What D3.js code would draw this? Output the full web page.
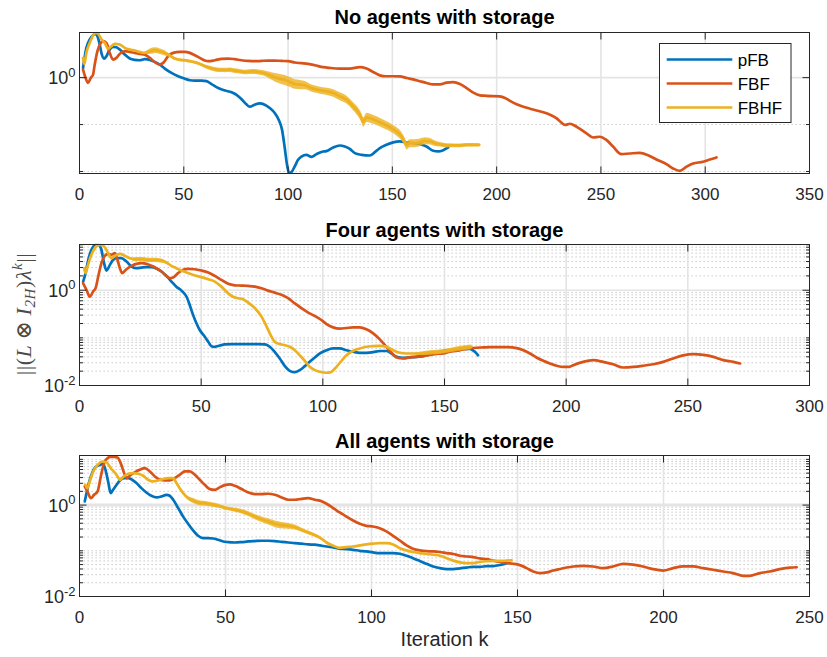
<!DOCTYPE html>
<html>
<head>
<meta charset="utf-8">
<script src="https://cdn.jsdelivr.net/npm/d3@7"></script>
<style>
  body { margin: 0; background: #fff; }
  svg { display: block; }
</style>
</head>
<body>
<svg id="chart" width="827" height="657"></svg>
<script>
// ---------------------------------------------------------------
// Residual norm per iteration, three storage scenarios
// Each series: [iteration k, ||(L ⊗ I_2H) λ^k||]
// ---------------------------------------------------------------
const seriesNames = ["pFB", "FBF", "FBHF"];
const panelTitles = ["No agents with storage", "Four agents with storage", "All agents with storage"];
const xTicksNone = [0, 50, 100, 150, 200, 250, 300, 350];
const xTicksFour = [0, 50, 100, 150, 200, 250, 300];
const xTicksAll = [0, 50, 100, 150, 200, 250];

// --- No agents with storage ---
const noneFB = [[1.7,1.61],[3.3,4.31],[4.9,6.5],[6.5,8.0],[7.7,8.6],[8.6,7.65],[9.7,5.08],[10.5,3.37],[11.8,2.55],[12.9,2.86],[14.5,3.97],[16.1,4.53],[17.7,4.45],[19.3,3.97],[21.7,3.1],[24.1,2.55],[26.5,2.39],[28.9,2.35],[31.3,2.47],[33.7,2.39],[36.1,2.17],[38.5,1.9],[40.9,1.56],[44.1,1.26],[47.3,1.07],[50.5,0.95],[52.9,0.88],[55.3,0.86],[58.5,0.86],[60.9,0.84],[63.3,0.73],[66.5,0.60],[69.7,0.53],[72.9,0.49],[75.3,0.43],[77.6,0.35],[80.0,0.27],[81.6,0.24],[84.0,0.265],[86.4,0.283],[88.8,0.265],[91.2,0.225],[93.6,0.176],[95.5,0.127],[97.1,0.078],[98.4,0.032],[99.5,0.0139],[100.5,0.0093],[101.6,0.0097],[103.2,0.0128],[104.8,0.0177],[106.4,0.0208],[108.8,0.0226],[111.2,0.0205],[113.6,0.0234],[116.8,0.0267],[118.4,0.0272],[121.6,0.0325],[124.8,0.0358],[127.2,0.0341],[129.6,0.0304],[132.0,0.0246],[135.2,0.0226],[139.2,0.0219],[141.6,0.0258],[144.0,0.0315],[147.2,0.0371],[150.4,0.0416],[153.6,0.0437],[156.8,0.0416],[160.0,0.0403],[163.2,0.0383],[166.4,0.0341],[169.6,0.0276],[172.0,0.0267],[174.4,0.0285],[176.8,0.0325]];
const noneFBF = [[1.7,1.48],[2.9,0.99],[4.1,0.77],[5.4,0.99],[6.5,1.16],[7.3,1.9],[8.6,3.66],[10.2,5.5],[11.3,5.98],[12.9,5.5],[14.5,3.37],[16.1,2.43],[17.7,2.64],[19.3,3.21],[21.7,3.66],[24.1,3.54],[26.5,3.37],[28.9,3.21],[31.3,3.1],[33.7,2.64],[36.1,2.13],[38.5,1.9],[40.1,2.06],[42.5,2.86],[44.9,3.37],[48.1,3.54],[50.5,3.54],[52.9,3.37],[55.3,3.01],[57.7,2.64],[60.1,2.31],[61.7,2.24],[64.9,2.35],[68.1,2.51],[71.3,2.55],[74.4,2.47],[77.6,2.35],[80.8,2.27],[84.0,2.24],[87.2,2.27],[90.4,2.31],[93.6,2.31],[96.8,2.27],[100.0,2.24],[103.2,2.10],[106.4,2.03],[109.6,1.96],[112.8,1.84],[116.8,1.67],[120.0,1.61],[124.8,1.56],[129.6,1.56],[134.4,1.67],[137.6,1.56],[140.8,1.32],[144.0,1.12],[147.2,1.07],[150.4,1.07],[153.6,1.06],[157.0,0.98],[160.0,0.92],[163.2,0.84],[166.4,0.77],[169.6,0.72],[172.8,0.72],[176.0,0.78],[179.2,0.80],[182.4,0.73],[185.6,0.60],[188.8,0.48],[192.0,0.42],[195.1,0.41],[201.5,0.40],[204.0,0.37],[206.4,0.32],[209.6,0.27],[212.8,0.24],[216.0,0.218],[219.2,0.200],[222.4,0.183],[225.6,0.162],[228.8,0.135],[231.6,0.105],[232.8,0.098],[235.1,0.104],[238.3,0.090],[243.1,0.065],[246.2,0.053],[249.4,0.055],[252.6,0.047],[255.8,0.034],[259.8,0.0234],[263.8,0.0242],[268.6,0.025],[272.6,0.0223],[276.6,0.018],[281.4,0.0143],[284.6,0.0116],[287.8,0.0103],[291.0,0.0126],[294.2,0.0148],[299.0,0.0161],[302.2,0.018],[305.4,0.0199]];
const noneFBHF = [[1.7,2.6],[2.3,1.95],[3.3,3.4],[4.9,5.5],[6.3,7.6],[7.5,8.9],[8.6,8.9],[9.2,8.3],[10.5,6.6],[12.1,5.5],[13.7,4.17],[15.3,4.68],[16.9,5.25],[19.3,5.08],[21.7,4.31],[24.1,3.97],[26.5,3.78],[28.9,3.54],[31.3,3.37],[33.7,3.66],[36.1,3.85],[38.5,3.66],[40.9,3.37],[43.3,2.96],[45.7,2.55],[48.1,2.39],[50.5,2.35],[52.9,2.24],[55.3,2.13],[57.7,1.96],[60.1,1.75],[62.5,1.61],[64.9,1.51],[67.3,1.46],[69.7,1.46],[72.0,1.48],[74.4,1.41],[76.8,1.37],[79.2,1.32],[81.6,1.35],[84.0,1.35],[86.4,1.30],[88.8,1.24],[91.2,1.12],[93.6,1.02],[96.0,0.95],[98.4,0.89],[100.8,0.81],[103.2,0.73],[105.6,0.71],[108.0,0.69],[110.4,0.62],[112.8,0.57],[115.2,0.54],[118.4,0.51],[121.6,0.47],[124.8,0.40],[128.0,0.34],[131.2,0.245],[133.6,0.185],[135.2,0.138],[136.0,0.113],[137.6,0.142],[140.0,0.133],[142.4,0.121],[144.8,0.108],[147.2,0.096],[149.6,0.084],[152.0,0.071],[154.4,0.056],[156.0,0.042],[156.8,0.036],[158.4,0.040],[160.8,0.040],[163.2,0.042],[165.6,0.045],[168.0,0.044],[170.4,0.040],[172.8,0.038],[176.0,0.036],[179.2,0.036],[182.4,0.036],[185.6,0.037],[191.7,0.037]];
// iteration-to-iteration oscillation of FBHF: half-width of its envelope, in decades
const noneFBHFSpread = [[30,0],[33,0.06],[40,0.06],[44,0.03],[58,0.03],[62,0.045],[80,0.05],[88,0.055],[93,0.085],[97,0.107],[106,0.1],[110,0.075],[117,0.075],[124,0.085],[130,0.085],[137,0.1],[145,0.09],[152,0.09],[160,0.085],[168,0.07],[173,0.045],[192,0.035]];

// --- Four agents with storage ---
const fourFB = [[1.5,1.52],[2.5,2.28],[3.6,4.34],[4.9,7.05],[6.6,8.9],[7.7,8.9],[8.8,7.65],[10.1,3.7],[11.1,2.59],[12.5,3.41],[13.8,4.34],[15.6,4.71],[17.2,4.71],[19.3,4.0],[21.4,3.14],[23.4,2.9],[25.5,2.99],[27.5,3.05],[29.6,3.05],[31.6,2.85],[33.7,2.47],[35.7,2.0],[37.8,1.52],[39.8,1.19],[41.9,0.98],[44.0,0.73],[45.3,0.49],[46.7,0.30],[48.1,0.20],[49.4,0.146],[51.5,0.106],[52.9,0.083],[54.2,0.067],[55.6,0.065],[57.7,0.069],[59.7,0.073],[62.5,0.074],[65.2,0.074],[67.9,0.074],[70.7,0.074],[73.4,0.074],[76.2,0.073],[78.2,0.065],[80.2,0.051],[82.3,0.037],[84.4,0.0255],[86.4,0.0203],[88.5,0.019],[90.5,0.021],[92.6,0.0255],[94.6,0.0315],[96.7,0.0388],[98.8,0.047],[101.5,0.055],[104.2,0.060],[107.0,0.060],[109.7,0.055],[112.5,0.051],[115.2,0.0486],[117.9,0.0486],[120.7,0.050],[123.4,0.053],[126.1,0.053],[128.2,0.047],[130.3,0.040],[133.0,0.038],[135.7,0.039],[138.5,0.040],[141.2,0.042],[144.0,0.045],[146.7,0.0486],[149.5,0.053],[152.2,0.055],[155.0,0.057],[157.7,0.059],[160.4,0.059],[162.5,0.051],[163.8,0.043]];
const fourFBF = [[1.5,1.40],[2.9,1.01],[4.2,0.73],[5.6,0.94],[6.6,1.10],[7.7,1.94],[9.0,3.7],[10.4,5.27],[11.8,5.81],[13.1,5.53],[14.5,6.0],[15.6,4.34],[16.6,2.9],[17.5,2.28],[19.3,2.76],[21.4,3.25],[23.4,3.58],[25.5,3.70],[27.5,3.58],[29.6,3.25],[31.6,2.90],[33.7,2.47],[35.7,2.0],[37.1,1.79],[38.5,1.85],[40.5,2.28],[42.6,2.68],[44.6,2.81],[47.4,2.76],[50.1,2.59],[52.9,2.35],[55.6,2.0],[58.3,1.65],[61.1,1.36],[63.8,1.27],[66.6,1.25],[69.3,1.23],[72.1,1.19],[74.8,1.10],[77.5,0.98],[80.2,0.89],[83.0,0.80],[85.7,0.68],[88.5,0.53],[91.2,0.42],[94.0,0.34],[96.7,0.288],[99.4,0.237],[101.5,0.195],[104.2,0.166],[107.0,0.156],[109.7,0.161],[112.5,0.166],[115.2,0.166],[117.9,0.151],[120.7,0.124],[123.4,0.093],[126.1,0.065],[128.2,0.0486],[130.3,0.0388],[133.0,0.037],[135.7,0.0388],[138.5,0.040],[141.2,0.041],[144.0,0.044],[146.7,0.046],[149.5,0.047],[152.2,0.051],[155.0,0.0536],[157.7,0.057],[160.4,0.060],[163.2,0.062],[165.9,0.063],[168.6,0.064],[171.4,0.064],[175.5,0.064],[179.6,0.061],[182.4,0.055],[185.1,0.047],[187.8,0.0388],[190.6,0.033],[193.3,0.029],[196.1,0.026],[198.8,0.0245],[201.3,0.0247],[202.9,0.0267],[207.0,0.0314],[211.1,0.034],[215.2,0.0314],[219.3,0.028],[223.4,0.0239],[227.6,0.0245],[231.7,0.026],[235.8,0.028],[239.9,0.0314],[244.0,0.037],[248.1,0.043],[252.3,0.0456],[256.4,0.044],[260.5,0.040],[264.6,0.034],[268.7,0.0314],[271.5,0.029]];
const fourFBHF = [[1.9,2.9],[2.5,2.28],[3.3,3.14],[4.6,5.1],[6.3,7.65],[7.9,8.9],[9.0,8.9],[10.4,8.0],[11.8,6.0],[13.1,4.71],[14.5,5.27],[16.6,5.81],[18.6,5.27],[20.7,4.71],[22.7,4.49],[25.5,4.49],[28.2,4.34],[30.9,4.34],[33.7,4.2],[35.7,3.82],[37.8,3.25],[39.8,2.90],[41.9,2.59],[44.0,2.35],[46.0,2.17],[48.1,2.0],[50.1,1.88],[52.9,1.70],[55.6,1.52],[58.3,1.19],[61.1,0.86],[63.1,0.73],[65.2,0.68],[67.2,0.65],[69.3,0.55],[72.1,0.42],[74.8,0.279],[76.8,0.177],[78.9,0.106],[80.2,0.083],[82.3,0.074],[84.4,0.070],[86.4,0.065],[88.5,0.055],[90.5,0.043],[92.6,0.033],[94.6,0.0247],[96.7,0.021],[98.8,0.0194],[101.5,0.0185],[103.5,0.0193],[105.6,0.0247],[107.7,0.033],[109.7,0.043],[112.5,0.0536],[115.2,0.060],[117.9,0.065],[120.7,0.067],[123.4,0.068],[126.1,0.065],[128.9,0.055],[131.6,0.0486],[134.3,0.047],[137.1,0.047],[139.8,0.047],[142.5,0.0486],[145.3,0.050],[148.0,0.051],[150.7,0.0536],[153.5,0.057],[156.2,0.060],[159.0,0.063],[161.0,0.065]];
const fourFBHFSpread = [[20,0],[23,0.045],[34,0.045],[38,0],[136,0],[141,0.045],[161,0.05]];

// --- All agents with storage ---
const allFB = [[1.8,1.20],[2.4,1.83],[3.2,3.03],[4.3,5.0],[5.5,6.8],[7.0,7.6],[8.1,8.0],[8.9,5.92],[9.8,3.29],[10.7,1.83],[11.5,2.16],[12.7,2.78],[13.8,3.46],[15.3,3.89],[16.7,3.89],[18.0,3.58],[19.5,3.03],[21.2,2.35],[22.9,1.89],[24.6,1.60],[26.4,1.47],[28.1,1.55],[29.8,1.68],[30.9,1.60],[32.1,1.31],[33.8,0.86],[35.5,0.56],[37.2,0.39],[38.9,0.279],[40.6,0.213],[42.3,0.189],[44.0,0.189],[45.8,0.186],[47.5,0.174],[49.2,0.160],[50.9,0.155],[53.2,0.152],[55.5,0.155],[57.8,0.160],[60.0,0.163],[62.3,0.166],[64.6,0.166],[66.9,0.163],[69.2,0.157],[71.5,0.152],[73.7,0.147],[76.0,0.143],[78.3,0.138],[80.6,0.136],[82.3,0.131],[84.6,0.124],[86.9,0.118],[89.1,0.112],[91.4,0.109],[93.7,0.105],[96.0,0.100],[98.3,0.097],[100.5,0.092],[102.8,0.089],[105.1,0.089],[107.4,0.089],[109.7,0.086],[112.0,0.078],[114.2,0.069],[116.5,0.060],[118.8,0.052],[121.1,0.0454],[123.4,0.0418],[125.7,0.0397],[128.0,0.0397],[130.3,0.0413],[132.5,0.043],[134.8,0.0447],[137.1,0.0447],[139.4,0.046],[141.7,0.0463],[144.0,0.049],[146.2,0.053]];
const allFBF = [[1.8,2.56],[2.7,1.99],[3.9,1.42],[5.0,1.68],[6.2,1.99],[7.3,4.23],[8.4,8.3],[9.6,10.7],[10.7,11.3],[11.9,11.3],[13.0,11.0],[14.1,8.3],[15.3,5.0],[16.1,3.89],[17.2,4.38],[18.9,5.18],[20.6,5.92],[22.4,6.44],[24.1,5.44],[25.8,4.23],[27.5,3.58],[29.2,3.46],[30.9,3.46],[32.6,3.89],[34.3,4.6],[36.1,5.44],[37.8,5.44],[39.5,4.6],[41.2,3.58],[42.9,2.78],[44.6,2.24],[46.3,2.16],[48.1,2.47],[49.8,2.74],[51.5,2.83],[53.2,2.64],[55.5,2.24],[57.8,1.89],[60.0,1.74],[62.3,1.74],[64.6,1.77],[66.9,1.68],[69.2,1.47],[71.5,1.31],[73.7,1.31],[76.0,1.37],[78.3,1.42],[80.6,1.31],[82.3,1.25],[84.6,1.07],[86.9,0.86],[89.1,0.69],[91.4,0.56],[93.7,0.46],[96.0,0.39],[98.3,0.352],[100.5,0.34],[102.8,0.313],[105.1,0.265],[107.4,0.213],[109.7,0.168],[112.0,0.131],[114.2,0.111],[116.5,0.102],[118.8,0.098],[121.1,0.097],[123.4,0.094],[125.7,0.089],[128.0,0.085],[130.3,0.078],[132.5,0.075],[134.8,0.073],[137.1,0.068],[139.4,0.066],[141.7,0.061],[144.0,0.057],[146.2,0.054],[148.5,0.052],[150.8,0.0486],[153.1,0.0418],[155.4,0.0353],[157.7,0.0325],[160.0,0.0336],[162.2,0.037],[164.5,0.040],[166.8,0.043],[169.1,0.0454],[172.5,0.047],[175.9,0.0454],[179.3,0.0418],[182.7,0.0454],[186.2,0.052],[189.6,0.050],[193.0,0.0454],[196.4,0.0397],[199.9,0.037],[203.3,0.0418],[206.7,0.0454],[210.1,0.0454],[213.6,0.0418],[217.0,0.0384],[220.4,0.0353],[223.8,0.0325],[227.3,0.0284],[229.5,0.0284],[233.0,0.0325],[236.4,0.0353],[239.8,0.0397],[243.3,0.043],[245.6,0.0437]];
const allFBHF = [[2.0,2.78],[2.7,2.35],[3.5,3.29],[4.7,5.44],[6.2,7.6],[7.8,9.0],[9.2,8.6],[10.7,6.44],[12.7,4.6],[13.8,3.58],[14.9,4.1],[16.7,4.84],[18.4,5.0],[20.1,4.84],[21.8,4.38],[23.5,3.58],[25.2,3.29],[26.9,3.46],[28.6,3.70],[30.4,3.89],[32.1,3.89],[33.2,3.03],[34.3,2.35],[35.5,1.83],[37.2,1.42],[38.9,1.26],[40.6,1.14],[42.3,1.10],[44.0,1.07],[45.8,1.02],[47.5,0.97],[49.2,0.90],[50.9,0.84],[53.2,0.79],[55.5,0.73],[57.8,0.65],[60.0,0.56],[62.3,0.49],[64.6,0.44],[66.9,0.39],[69.2,0.365],[71.5,0.352],[73.7,0.33],[76.0,0.288],[78.3,0.252],[80.6,0.22],[82.3,0.195],[84.6,0.152],[86.9,0.129],[89.1,0.116],[91.4,0.120],[93.7,0.124],[96.0,0.131],[98.3,0.138],[100.5,0.143],[102.8,0.147],[105.1,0.147],[107.4,0.138],[109.7,0.114],[112.0,0.102],[114.2,0.094],[116.5,0.089],[118.8,0.086],[121.1,0.082],[123.4,0.078],[125.7,0.069],[128.0,0.061],[130.3,0.0556],[132.5,0.054],[134.8,0.054],[137.1,0.057],[139.4,0.059],[141.7,0.060],[144.0,0.060],[146.2,0.061],[148.0,0.062]];
const allFBHFSpread = [[35,0],[38,0.055],[46,0.05],[50,0.035],[56,0.05],[62,0.06],[66,0.075],[71,0.065],[76,0.045],[84,0.03],[88,0]];

// ---------------------------------------------------------------
// Layout and styling
// ---------------------------------------------------------------
const FONT = '"Liberation Sans", Arial, Helvetica, sans-serif';
const INK = "#262626";
const colors = { pFB: "#0072BD", FBF: "#D95319", FBHF: "#EDB120" };
const LINE_W = 2.7;

const panels = [
  { title: panelTitles[0], titleY: 24, top: 32.5, bottom: 173.5, xMax: 350, xTicks: xTicksNone,
    yDomain: [Math.pow(10, -2.043), Math.pow(10, 0.962)], labelled: [1], minorAll: false,
    series: { pFB: noneFB, FBF: noneFBF, FBHF: noneFBHF }, spread: noneFBHFSpread },
  { title: panelTitles[1], titleY: 236.5, top: 244.5, bottom: 385.5, xMax: 300, xTicks: xTicksFour,
    yDomain: [0.01, Math.pow(10, 0.96)], labelled: [0.01, 1], minorAll: true,
    series: { pFB: fourFB, FBF: fourFBF, FBHF: fourFBHF }, spread: fourFBHFSpread },
  { title: panelTitles[2], titleY: 448, top: 455.5, bottom: 596.5, xMax: 250, xTicks: xTicksAll,
    yDomain: [0.01, Math.pow(10, 1.085)], labelled: [0.01, 1], minorAll: true,
    series: { pFB: allFB, FBF: allFBF, FBHF: allFBHF }, spread: allFBHFSpread }
];
const X0 = 79.5, X1 = 809.5;

const svg = d3.select("#chart");
svg.append("rect").attr("width", 827).attr("height", 657).attr("fill", "#fff");
const defs = svg.append("defs");

panels.forEach((p, i) => {
  const x = d3.scaleLinear().domain([0, p.xMax]).range([X0, X1]);
  const y = d3.scaleLog().domain(p.yDomain).range([p.bottom, p.top]);
  const g = svg.append("g");

  // horizontal grid values: labelled majors and dotted minors
  const lo = Math.log10(p.yDomain[0]), hi = Math.log10(p.yDomain[1]);
  const minor = [];
  for (let d = Math.floor(lo); d <= Math.ceil(hi); d++) {
    const mult = p.minorAll ? [1,2,3,4,5,6,7,8,9] : [1];
    mult.forEach(m => {
      const v = m * Math.pow(10, d);
      const lv = Math.log10(v);
      if (lv >= lo - 1e-9 && lv <= hi + 1e-9 && !p.labelled.some(t => Math.abs(t - v) < 1e-12)) minor.push(v);
    });
  }

  g.append("g").selectAll("line").data(minor).join("line")
    .attr("x1", X0).attr("x2", X1)
    .attr("y1", d => y(d)).attr("y2", d => y(d))
    .attr("stroke", "#c2c2c2").attr("stroke-width", 1)
    .attr("stroke-dasharray", "1.3,2.7");

  g.append("g").selectAll("line").data(p.labelled.filter(v => y(v) > p.top + 2 && y(v) < p.bottom - 2)).join("line")
    .attr("x1", X0).attr("x2", X1)
    .attr("y1", d => y(d)).attr("y2", d => y(d))
    .attr("stroke", "#e4e4e4").attr("stroke-width", i === 2 ? 3 : 1.6);
  g.append("g").selectAll("line").data(p.xTicks.slice(1, -1)).join("line")
    .attr("x1", d => x(d)).attr("x2", d => x(d))
    .attr("y1", p.top).attr("y2", p.bottom)
    .attr("stroke", "#e4e4e4").attr("stroke-width", 1.6);

  // data
  const clipId = "clip" + i;
  defs.append("clipPath").attr("id", clipId)
    .append("rect").attr("x", X0).attr("y", p.top - 1).attr("width", X1 - X0).attr("height", p.bottom - p.top + 2);
  const line = d3.line().x(d => x(d[0])).y(d => y(d[1])).curve(d3.curveMonotoneX);
  const lines = g.append("g").attr("clip-path", `url(#${clipId})`);

  // envelope of the FBHF iteration-to-iteration oscillation
  const spreadAt = d3.scaleLinear().domain(p.spread.map(d => d[0])).range(p.spread.map(d => d[1])).clamp(true);
  const inSpread = p.series.FBHF.filter(d => d[0] >= p.spread[0][0] && d[0] <= p.spread[p.spread.length - 1][0]);
  const band = d3.area()
    .x(d => x(d[0]))
    .y0(d => y(d[1] * Math.pow(10, -spreadAt(d[0]))))
    .y1(d => y(d[1] * Math.pow(10, spreadAt(d[0]))))
    .curve(d3.curveMonotoneX);

  seriesNames.forEach(name => {
    if (name === "FBHF") {
      lines.append("path").datum(inSpread).attr("d", band)
        .attr("fill", colors.FBHF).attr("fill-opacity", 0.8).attr("stroke", "none");
    }
    lines.append("path").datum(p.series[name])
      .attr("d", line).attr("fill", "none")
      .attr("stroke", colors[name]).attr("stroke-width", LINE_W)
      .attr("stroke-linejoin", "round").attr("stroke-linecap", "round");
  });

  // axes box
  g.append("rect").attr("x", X0).attr("y", p.top).attr("width", X1 - X0).attr("height", p.bottom - p.top)
    .attr("fill", "none").attr("stroke", INK).attr("stroke-width", 1);

  // x ticks, bottom and top, pointing inwards
  const xt = g.append("g");
  p.xTicks.forEach(t => {
    xt.append("line").attr("x1", x(t)).attr("x2", x(t)).attr("y1", p.bottom).attr("y2", p.bottom - 7).attr("stroke", INK);
    xt.append("line").attr("x1", x(t)).attr("x2", x(t)).attr("y1", p.top).attr("y2", p.top + 7).attr("stroke", INK);
    xt.append("text").attr("x", x(t)).attr("y", p.bottom + 26.5)
      .attr("text-anchor", "middle").attr("fill", INK)
      .style("font-family", FONT).style("font-size", "17px").text(t);
  });

  // y ticks, left and right
  const yt = g.append("g");
  const tick = (v, len) => {
    yt.append("line").attr("x1", X0).attr("x2", X0 + len).attr("y1", y(v)).attr("y2", y(v)).attr("stroke", INK);
    yt.append("line").attr("x1", X1).attr("x2", X1 - len).attr("y1", y(v)).attr("y2", y(v)).attr("stroke", INK);
  };
  minor.forEach(v => tick(v, 3.5));
  p.labelled.forEach(v => {
    tick(v, 7);
    const e = Math.round(Math.log10(v));
    const t = yt.append("text").attr("x", X0 - 4).attr("y", y(v) + 6.5)
      .attr("text-anchor", "end").attr("fill", INK).style("font-family", FONT).style("font-size", "18px");
    t.append("tspan").text("10");
    t.append("tspan").attr("dy", -7.5).style("font-size", "13px").text(e < 0 ? "-" + (-e) : String(e));
  });

  // title
  svg.append("text").attr("x", (X0 + X1) / 2).attr("y", p.titleY)
    .attr("text-anchor", "middle").attr("fill", "#000")
    .style("font-family", FONT).style("font-size", "20px").style("font-weight", "bold")
    .text(p.title);
});

// x label
svg.append("text").attr("x", (X0 + X1) / 2).attr("y", 646)
  .attr("text-anchor", "middle").attr("fill", INK)
  .style("font-family", FONT).style("font-size", "20px").text("Iteration k");

// y label: ||(L ⊗ I_2H) λ^k||
const yl = svg.append("text").attr("transform", "translate(31,314) rotate(-90)")
  .attr("text-anchor", "middle").attr("fill", "#4a4a4a")
  .style("font-family", '"Liberation Serif", "DejaVu Serif", serif').style("font-size", "22px")
  .style("letter-spacing", "0.6px");
yl.append("tspan").text("||(");
yl.append("tspan").style("font-style", "italic").text("L");
yl.append("tspan").text("\u2009\u2297\u2009");
yl.append("tspan").style("font-style", "italic").text("I");
yl.append("tspan").attr("dy", 4).style("font-style", "italic").style("font-size", "15px").text("2H");
yl.append("tspan").attr("dy", -4).text(")");
yl.append("tspan").style("font-style", "italic").text("\u03BB");
yl.append("tspan").attr("dy", -9).style("font-style", "italic").style("font-size", "15px").text("k");
yl.append("tspan").attr("dy", 9).text("||");

// legend in the top panel
const lg = svg.append("g");
lg.append("rect").attr("x", 659.5).attr("y", 43.5).attr("width", 131.5).attr("height", 79)
  .attr("fill", "#fff").attr("stroke", INK).attr("stroke-width", 1);
seriesNames.forEach((name, j) => {
  const yy = 59.5 + j * 24;
  lg.append("line").attr("x1", 666.7).attr("x2", 732.3).attr("y1", yy).attr("y2", yy)
    .attr("stroke", colors[name]).attr("stroke-width", LINE_W);
  lg.append("text").attr("x", 737.7).attr("y", yy + 6)
    .attr("fill", "#000").style("font-family", FONT).style("font-size", "17px").text(name);
});
</script>
</body>
</html>
